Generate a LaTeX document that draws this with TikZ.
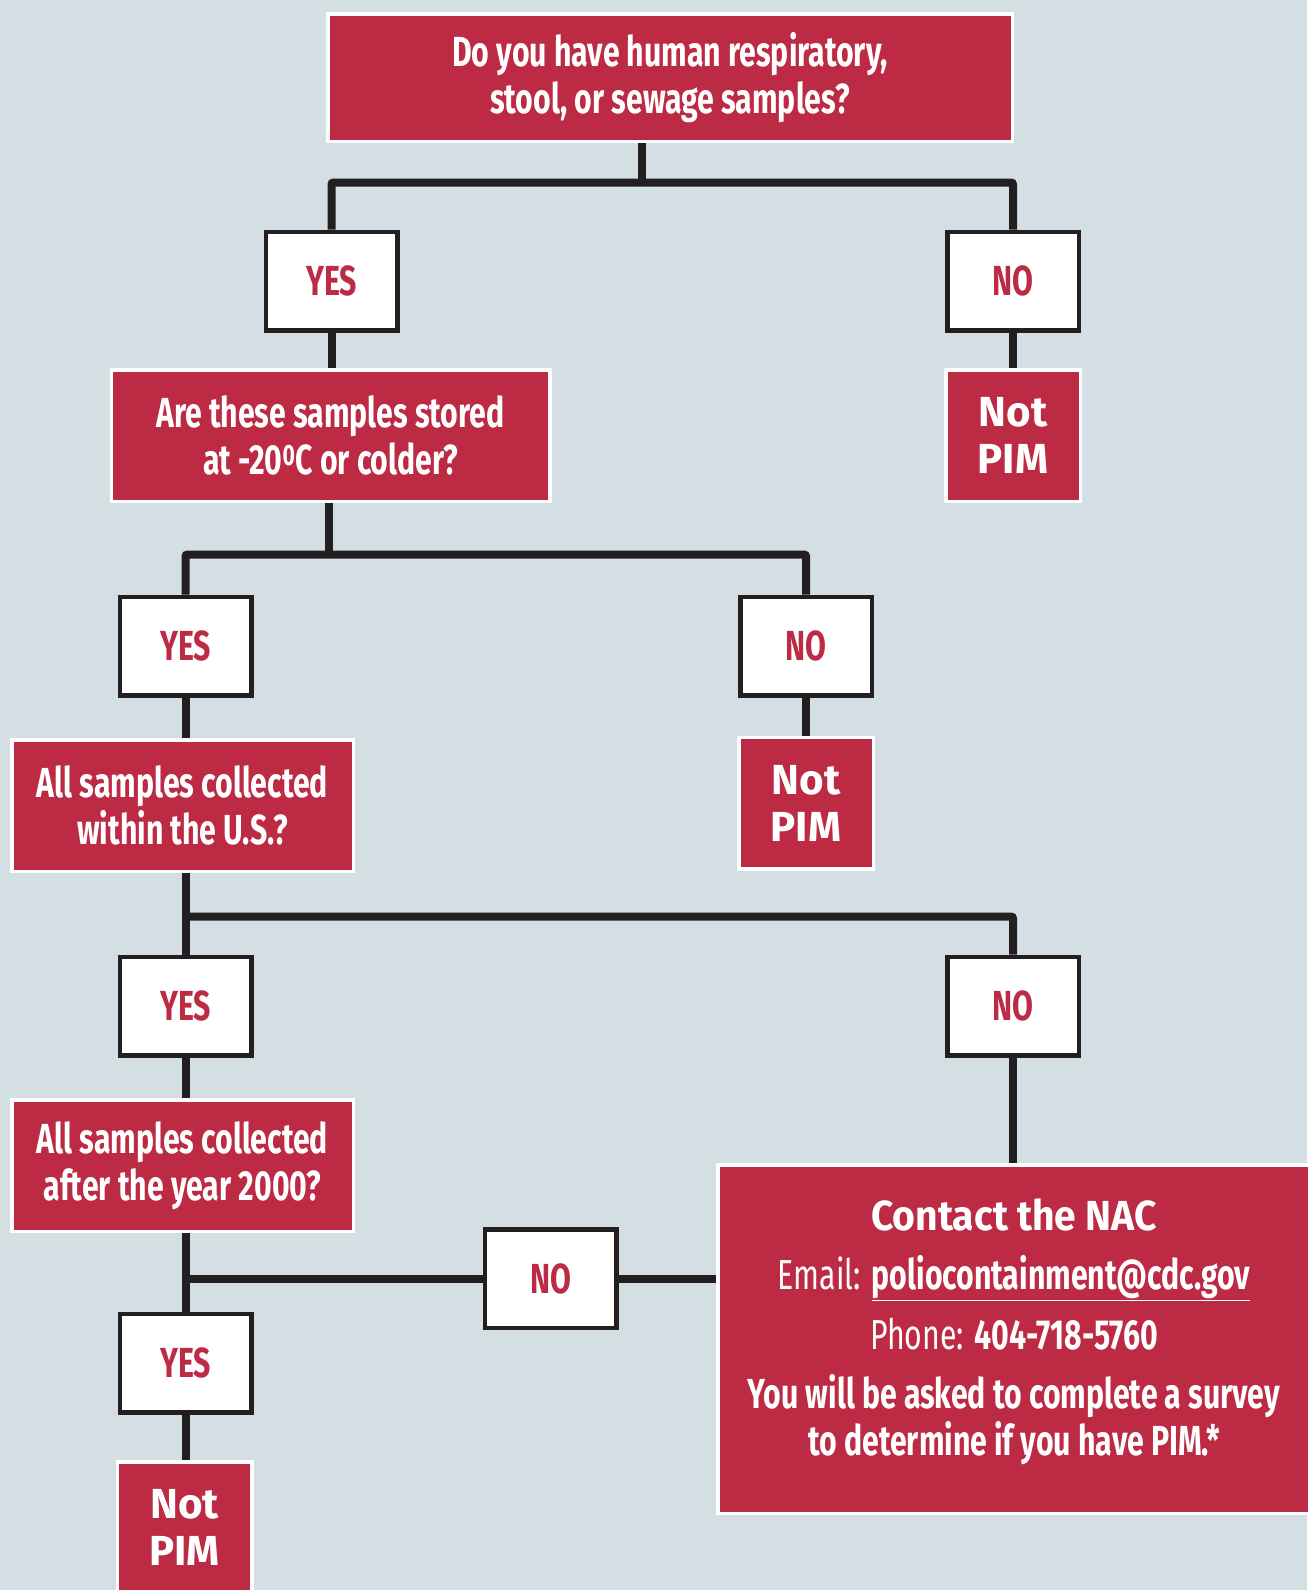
\documentclass[tikz,border=0pt]{standalone}
\usepackage{fontspec}
\setmainfont{Fira Sans}
\newfontfamily\condfont{Fira Sans}[FakeStretch=0.72]
\newfontfamily\semicondfont{Fira Sans}[FakeStretch=0.93]
\definecolor{pimred}{HTML}{BC2A44}
\definecolor{bgblue}{HTML}{D3DFE3}
\definecolor{linedark}{HTML}{231F20}

\begin{document}
\begin{tikzpicture}[x=1pt, y=-1pt,
  question/.style={draw=white, line width=3.5pt, fill=pimred, text=white,
    align=center, inner sep=0pt,
    font=\condfont\bfseries\fontsize{42}{47}\selectfont},
  answer/.style={draw=linedark, line width=4.5pt, fill=white, text=pimred,
    minimum width=131.5, minimum height=98.5,
    font=\condfont\bfseries\fontsize{42}{47}\selectfont},
  notpim/.style={question, minimum width=134.5, minimum height=131.5,
    font=\bfseries\fontsize{42}{47}\selectfont},
  info/.style={text=white, align=center, inner sep=0pt,
    font=\condfont\fontsize{42}{47}\selectfont},
  link/.style={draw=linedark, line width=8pt, rounded corners=2pt}]

  % background and page size
  \fill[bgblue] (0,0) rectangle (1307,1590);
  \useasboundingbox (0,0) rectangle (1307,1590);

  % questions
  \node[question, minimum width=684.5, minimum height=127.5] (q1) at (670,77.5)
    {Do you have human respiratory,\\stool, or sewage samples?};
  \node[question, minimum width=438.5, minimum height=131.5] (q2) at (330.5,435.5)
    {Are these samples stored\\at -20\textsuperscript{0}C or colder?};
  \node[question, minimum width=341.5, minimum height=131.5] (q3) at (182.5,805.5)
    {All samples collected\\within the U.S.?};
  \node[question, minimum width=341.5, minimum height=131.5] (q4) at (182.5,1165.5)
    {All samples collected\\after the year 2000?};

  % answers
  \node[answer] (y1) at (331.5,281) {YES};
  \node[answer] (n1) at (1013,281) {NO};
  \node[answer] (y2) at (185.5,646) {YES};
  \node[answer] (n2) at (806,646) {NO};
  \node[answer] (y3) at (185.5,1006) {YES};
  \node[answer] (n3) at (1013,1006) {NO};
  \node[answer] (y4) at (185.5,1363) {YES};
  \node[answer] (n4) at (550.5,1278.5) {NO};

  % outcomes
  \node[notpim, align=center] (np1) at (1013,435.5) {Not\\PIM};
  \node[notpim, align=center] (np2) at (806,803) {Not\\PIM};
  \node[notpim, align=center] (np3) at (184.5,1527.5) {Not\\PIM};
  \node[question, minimum width=592.5, minimum height=348.5] (contact) at (1014,1339) {};
  \node[info] (contactinfo) at ([yshift=7]contact.center)
    {{\semicondfont\bfseries Contact the NAC}\\[12pt]
     Email: \textbf{\underline{poliocontainment@cdc.gov}}\\[13pt]
     Phone: \textbf{404-718-5760}\\[12pt]
     \textbf{You will be asked to complete a survey}\\
     \textbf{to determine if you have PIM.*}};

  % junctions
  \coordinate (j1) at (642,182.5);
  \coordinate (j2) at (328.5,554.5);
  \coordinate (j3) at (185.5,916.5);

  % connectors
  \draw[link] (q1.south -| j1) -- (j1);
  \draw[link] (y1.north) |- (j1) -| (n1.north);
  \draw[link] (y1.south) -- (y1.south |- q2.north);
  \draw[link] (n1.south) -- (np1.north);
  \draw[link] (q2.south -| j2) -- (j2);
  \draw[link] (y2.north) |- (j2) -| (n2.north);
  \draw[link] (y2.south) -- (y2.south |- q3.north);
  \draw[link] (n2.south) -- (np2.north);
  \draw[link] (q3.south -| y3) -- (y3.north);
  \draw[link] (j3) -| (n3.north);
  \draw[link] (y3.south) -- (y3.south |- q4.north);
  \draw[link] (n3.south) -- (n3.south |- contact.north);
  \draw[link] (q4.south -| y4) -- (y4.north);
  \draw[link] (y4 |- n4) -- (n4.west);
  \draw[link] (n4.east) -- (n4.east -| contact.west);
  \draw[link] (y4.south) -- (y4.south |- np3.north);

\end{tikzpicture}
\end{document}
